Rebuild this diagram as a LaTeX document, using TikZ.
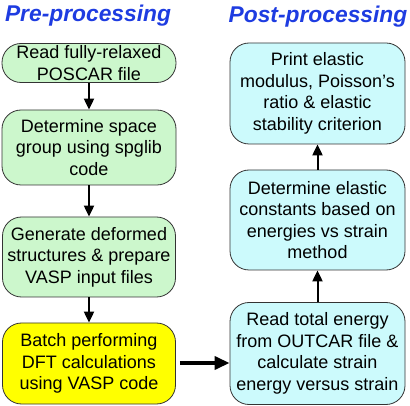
\documentclass[tikz,border=0pt]{standalone}
\usepackage{fontspec}
\setmainfont{Liberation Sans}
\usetikzlibrary{arrows.meta}
\definecolor{titleblue}{RGB}{30,60,225}
\definecolor{boxgreen}{RGB}{204,247,204}
\definecolor{boxcyan}{RGB}{204,250,252}
\definecolor{boxyellow}{RGB}{255,255,0}
\begin{document}
\begin{tikzpicture}[x=1pt,y=-1pt,
  box/.style={draw=black!80,line width=0.8pt,rounded corners=19pt,align=center,
    font=\fontsize{18}{21.5}\selectfont,inner sep=0pt},
  title/.style={font=\fontsize{22.8}{25}\selectfont\bfseries\itshape,text=titleblue},
  arr/.style={-{Triangle[length=11pt,width=10pt]},line width=2pt},
  bigarr/.style={-{Triangle[length=15pt,width=13pt]},line width=3.5pt}]
\useasboundingbox (0,0) rectangle (410,406);
\node[title] (t1) at (88,16) {Pre-processing};
\node[title] (t2) at (318,17) {Post-processing};
\node[box,fill=boxgreen,minimum width=174pt,minimum height=39pt] (b1) at (89,63) {Read fully-relaxed\\POSCAR file};
\node[box,fill=boxgreen,minimum width=174pt,minimum height=75pt] (b2) at (89,147.5) {Determine space\\group using spglib\\code};
\node[box,fill=boxgreen,minimum width=173pt,minimum height=80pt] (b3) at (89,257) {Generate deformed\\structures \& prepare\\VASP input files};
\node[box,fill=boxyellow,minimum width=173pt,minimum height=81pt] (b4) at (89,363.5) {Batch performing\\DFT calculations\\using VASP code};
\node[box,fill=boxcyan,minimum width=175pt,minimum height=101pt] (r1) at (317.5,93.5) {Print elastic\\modulus, Poisson's\\ratio \& elastic\\stability criterion};
\node[box,fill=boxcyan,minimum width=175pt,minimum height=100pt] (r2) at (317.5,220) {Determine elastic\\constants based on\\energies vs strain\\method};
\node[box,fill=boxcyan,minimum width=175pt,minimum height=102pt] (r3) at (317.5,353.5) {Read total energy\\from OUTCAR file \&\\calculate strain\\energy versus strain};
\draw[arr] (b1) -- (b2);
\draw[arr] (b2) -- (b3);
\draw[arr] (b3) -- (b4);
\draw[arr] (r2) -- (r1);
\draw[arr] (r3) -- (r2);
\draw[bigarr] (b4.east |- 0,363) ++(4,0) coordinate (s) -- (r3.west |- 0,363);
\end{tikzpicture}
\end{document}
